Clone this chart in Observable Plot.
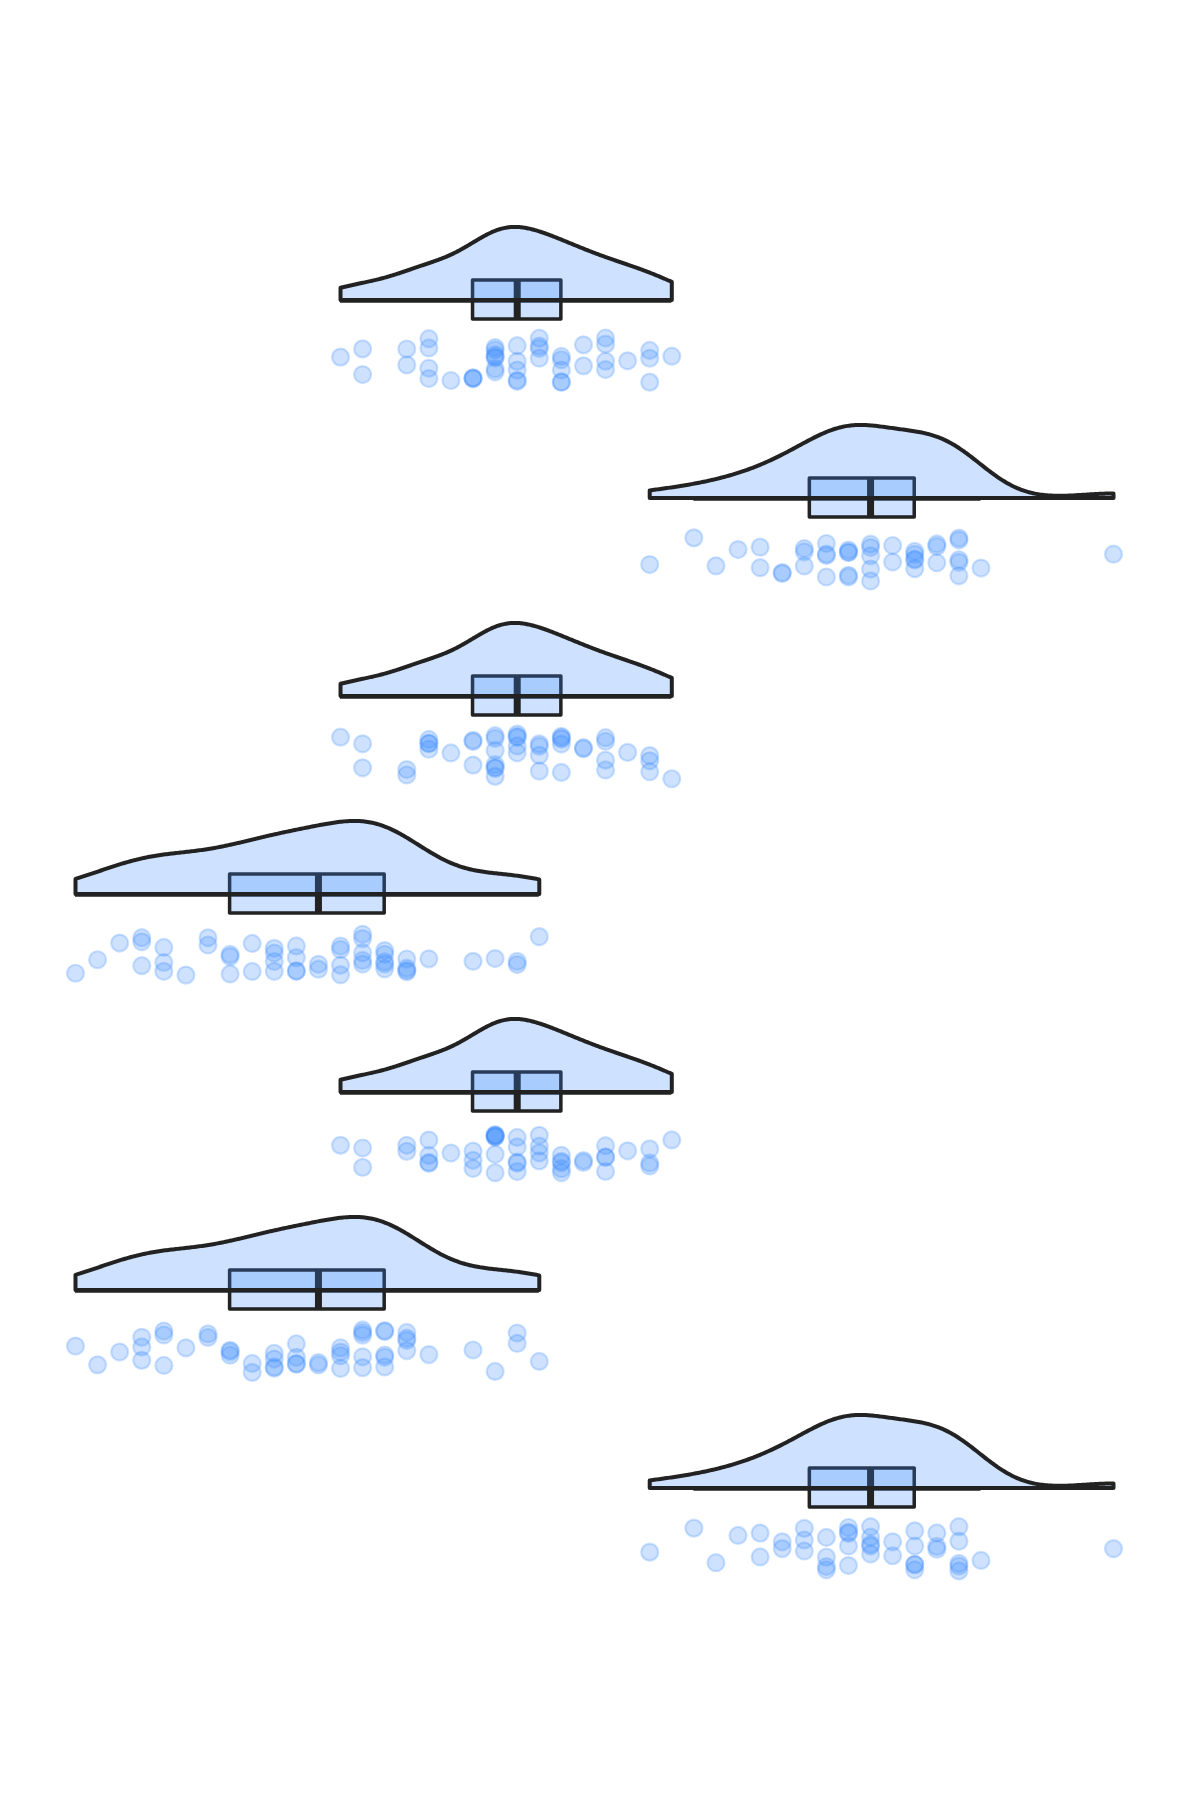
<!DOCTYPE html>
<html>
<head>
<meta charset="utf-8">
<script src="https://cdn.jsdelivr.net/npm/d3@7"></script>
<script src="https://cdn.jsdelivr.net/npm/@observablehq/plot@0.6"></script>
<style>
  body { margin: 0; background: #fff; }
  #chart svg { display: block; }
</style>
</head>
<body>
<div id="chart"></div>
<script>
// Distinct observed values and how many observations sit at each value
const valuesA = [12, 13, 15, 16, 17, 18, 19, 20, 21, 22, 23, 24, 25, 26, 27];
const countsA = [ 1,  2,  2,  4,  1,  3,  7,  5,  4,  5,  2,  4,  1,  3,  1];

const valuesB = [26, 28, 29, 30, 31, 32, 33, 34, 35, 36, 37, 38, 39, 40, 41, 47];
const countsB = [ 1,  1,  1,  1,  2,  2,  3,  4,  5,  5,  2,  5,  3,  5,  1,  1];

const valuesC = [0, 1, 2, 3, 4, 5, 6, 7, 8, 9, 10, 11, 12, 13, 14, 15, 16, 18, 19, 20, 21];
const countsC = [1, 1, 1, 3, 3, 1, 2, 3, 2, 4,  4,  2,  4,  5,  5,  4,  1,  1,  1,  2,  1];

// Which dataset each row (top to bottom) shows
const rowSets = ["A", "B", "A", "C", "A", "C", "B"];

// ---- build tables ----
const sets = {A: [valuesA, countsA], B: [valuesB, countsB], C: [valuesC, countsC]};
function expand([vals, cnts]) {
  const out = [];
  vals.forEach((v, i) => { for (let k = 0; k < cnts[i]; k++) out.push(v); });
  return out;
}
const obs = Object.fromEntries(Object.entries(sets).map(([k, s]) => [k, expand(s)]));

const VIOLIN_H = 0.369;   // in row units
const BOX_H = 0.0985;
const JIT_TOP = 0.19, JIT_BOT = 0.42;

const rng = d3.randomLcg(0.4217);
const points = [], kde = [], outline = [], boxes = [];

rowSets.forEach((key, row) => {
  const data = obs[key].slice().sort(d3.ascending);
  const n = data.length;
  const sd = d3.deviation(data);
  const bw = sd * Math.pow(n, -0.2) * 0.85;
  const lo = data[0], hi = data[n - 1];
  const grid = d3.range(lo, hi + 1e-9, (hi - lo) / 300);
  const dens = grid.map(x => d3.sum(data, v => Math.exp(-0.5 * ((x - v) / bw) ** 2)));
  const m = d3.max(dens);
  const prof = grid.map((x, i) => ({row, x, base: row, top: row - VIOLIN_H * dens[i] / m}));
  kde.push(...prof);
  outline.push({row, x: lo, y: row});
  prof.forEach(p => outline.push({row, x: p.x, y: p.top}));
  outline.push({row, x: hi, y: row});
  outline.push({row, x: lo, y: row});

  const q1 = d3.quantile(data, 0.25), med = d3.quantile(data, 0.5), q3 = d3.quantile(data, 0.75);
  const iqr = q3 - q1;
  const wlo = d3.min(data.filter(v => v >= q1 - 1.5 * iqr));
  const whi = d3.max(data.filter(v => v <= q3 + 1.5 * iqr));
  boxes.push({row, q1, med, q3, wlo, whi});

  data.forEach(v => points.push({row, x: v, y: row + JIT_TOP + rng() * (JIT_BOT - JIT_TOP)}));
});

const BLUE = "#3d8bff", INK = "#222222";

const chart = Plot.plot({
  width: 1200,
  height: 1800,
  marginLeft: 75,
  marginRight: 87,
  marginTop: 0,
  marginBottom: 0,
  x: {domain: [0, 47], axis: null},
  y: {domain: [-1.5126, 7.5783], range: [0, 1800], axis: null},
  marks: [
    // whiskers
    Plot.ruleY(boxes, {y: "row", x1: "wlo", x2: "whi", stroke: INK, strokeWidth: 3.3, dy: 1}),
    // box
    Plot.rect(boxes, {
      x1: "q1", x2: "q3",
      y1: d => d.row - BOX_H, y2: d => d.row + BOX_H,
      fill: BLUE, fillOpacity: 0.25,
      stroke: INK, strokeWidth: 3.5, strokeLinejoin: "round"
    }),
    // median
    Plot.ruleX(boxes, {x: "med", y1: d => d.row - BOX_H, y2: d => d.row + BOX_H, stroke: INK, strokeWidth: 7}),
    // half violin fill
    Plot.areaY(kde, {x: "x", y1: "base", y2: "top", z: "row", fill: BLUE, fillOpacity: 0.25}),
    // half violin outline
    Plot.line(outline, {x: "x", y: "y", z: "row", stroke: INK, strokeWidth: 4, strokeLinejoin: "round", strokeLinecap: "round"}),
    // rain
    Plot.dot(points, {
      x: "x", y: "y", r: 8.5,
      fill: BLUE, fillOpacity: 0.25,
      stroke: BLUE, strokeOpacity: 0.25, strokeWidth: 2.2
    })
  ]
});

document.getElementById("chart").append(chart);
</script>
</body>
</html>
